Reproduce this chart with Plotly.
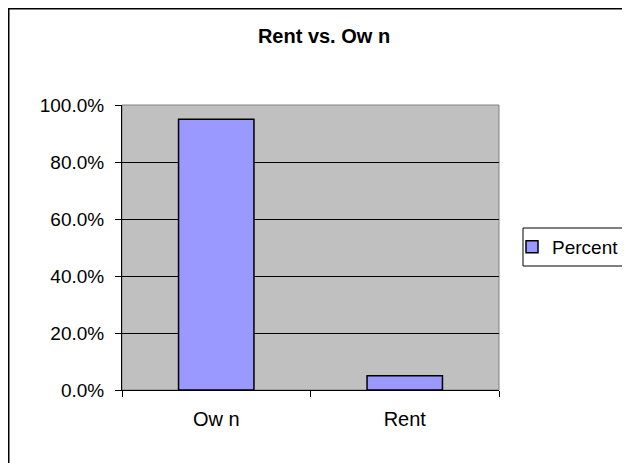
import plotly.graph_objects as go

# data
categories = ["Ow n", "Rent"]
percent = [0.95, 0.05]
y_ticks = [0.0, 0.2, 0.4, 0.6, 0.8, 1.0]

FONT = "Liberation Sans, Arial, sans-serif"

# the page body adds an 8px margin, so work in page pixels and shift
OFF = 8
W, H = 630, 463
pl, pr, pt, pb = 122 - OFF, 499 - OFF, 105 - OFF, 390 - OFF
pw, ph = float(pr - pl), float(pb - pt)


def px(x):
    # page x -> paper x
    return (x - OFF - pl) / pw


def py(y):
    # page y -> paper y
    return (pb - (y - OFF)) / ph


fig = go.Figure()
fig.add_trace(
    go.Bar(
        x=categories,
        y=percent,
        name="Percent",
        marker=dict(color="#9999FF", line=dict(color="#000000", width=1.5)),
    )
)

fig.update_layout(
    width=W,
    height=H,
    margin=dict(l=pl, r=W - pr, t=pt, b=H - pb, autoexpand=False),
    paper_bgcolor="white",
    plot_bgcolor="#C0C0C0",
    bargap=0.6,
    showlegend=True,
    font=dict(family=FONT, size=19, color="#000000"),
    title=dict(
        text="<b>Rent vs. Ow n</b>",
        x=px(324), xref="paper", xanchor="center",
        y=1 - (35.5 - OFF) / H, yanchor="middle",
        font=dict(family=FONT, size=20),
    ),
    legend=dict(
        x=px(512), xanchor="left",
        y=py(247), yanchor="middle",
        borderwidth=0,
        bgcolor="rgba(0,0,0,0)",
        font=dict(family=FONT, size=19),
        itemwidth=30,
    ),
    xaxis=dict(
        type="category",
        range=[-0.5, 1.5],
        tickson="boundaries",
        ticks="outside", ticklen=6, tickcolor="#000000",
        showline=True, linecolor="#000000", linewidth=1,
        showgrid=False,
        ticklabelstandoff=11,
        tickfont=dict(family=FONT, size=20),
    ),
    yaxis=dict(
        range=[0, 1],
        tickvals=y_ticks,
        tickformat=".1%",
        ticks="outside", ticklen=6, tickcolor="#000000",
        showline=True, linecolor="#000000", linewidth=1,
        showgrid=True, gridcolor="#000000", gridwidth=1,
        zeroline=False,
        ticklabelstandoff=7,
        tickfont=dict(family=FONT, size=19),
    ),
)

# gray plot-area border on top/right
fig.add_shape(type="rect", xref="paper", yref="paper", x0=0, x1=1, y0=0, y1=1,
              line=dict(color="#808080", width=1), layer="below")

# legend frame (runs off the right edge)
fig.add_shape(type="rect", xref="paper", yref="paper",
              x0=px(523), x1=px(645), y0=py(266), y1=py(228),
              line=dict(color="#000000", width=1), layer="below")

# outer chart border (runs off the right and bottom edges)
fig.add_shape(type="rect", xref="paper", yref="paper",
              x0=px(8.75), x1=px(650), y0=py(480), y1=py(8.75),
              line=dict(color="#000000", width=1.5))

fig.write_html("out.html")
